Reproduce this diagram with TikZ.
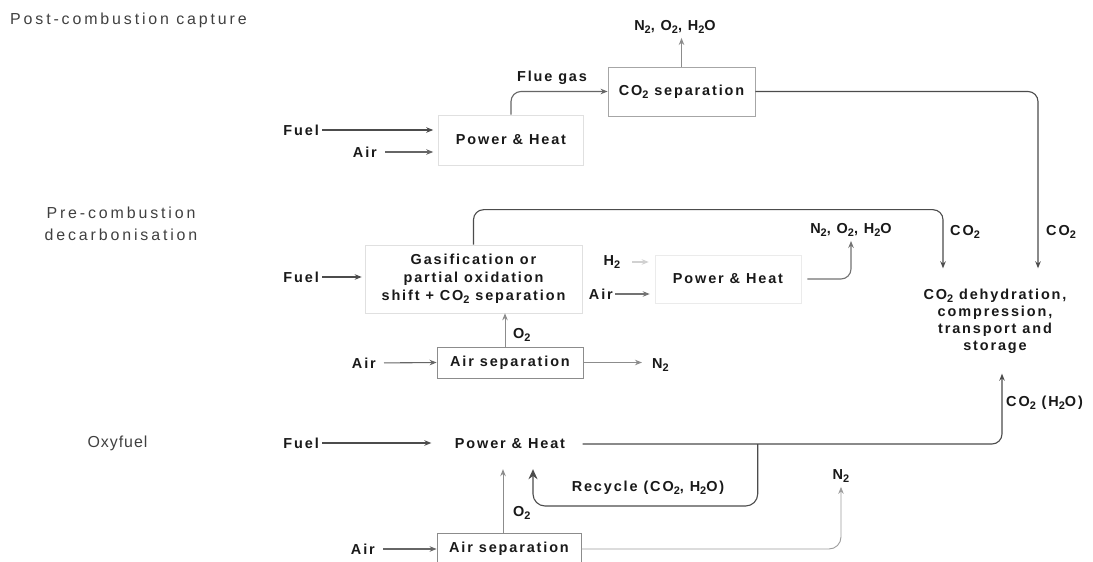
\documentclass[tikz,border=0pt]{standalone}
\usepackage{fontspec}
\setmainfont{Liberation Sans}[LetterSpace=13]
\newfontfamily\lblfont{Liberation Sans}[LetterSpace=18]
\newfontfamily\oxyfont{Liberation Sans}[LetterSpace=6]
\usetikzlibrary{arrows.meta,calc}
\newcommand\mysub[1]{\raisebox{-0.45ex}{\fontsize{11}{11}\selectfont #1}}
\tikzset{
  txt/.style={font=\fontsize{14.5}{17}\selectfont\bfseries, inner sep=0pt, text=black!90},
  lbl/.style={font=\lblfont\fontsize{16}{22}\selectfont, inner sep=0pt, text=black!75},
  fbox/.style={txt, draw=black!12, line width=0.6bp},
  gbox/.style={txt, draw=black!45, line width=0.8bp},
  flow/.style={draw=black!70, line width=1.1bp, -{Stealth[length=7bp,width=5.5bp]}},
  lflow/.style={draw=black!45, line width=1bp, -{Stealth[length=7bp,width=5.5bp]}},
  rc/.style={rounded corners=10bp}
}
\begin{document}
\begin{tikzpicture}[x=1bp,y=-1bp]
\useasboundingbox[fill=white] (0,0) rectangle (1093,562);

% left labels
\node[lbl, anchor=west] (lpost) at (10,20) {Post-combustion capture};
\node[lbl, align=center] (lpre) at (121,224) {Pre-combustion\\decarbonisation};
\node[lbl, font=\oxyfont\fontsize{16}{22}\selectfont] (loxy) at (117.5,443) {Oxyfuel};

% ---------------- post-combustion
\node[fbox, minimum width=145bp, minimum height=50bp] (ph1) at (511,140) {Power \& Heat};
\node[txt, anchor=east] (fuel1) at (319,130) {Fuel};
\node[txt, anchor=east] (air1) at (377,152) {Air};
\draw[flow, shorten <=3bp, shorten >=5bp] (fuel1.east) -- (ph1.west |- fuel1.east);
\draw[flow, draw=black!60, shorten <=8bp, shorten >=5bp] (air1.east) -- (ph1.west |- air1.east);
\node[txt] (flue) at (552,78) {Flue gas};
\node[gbox, draw=black!35, minimum width=147bp, minimum height=49bp] (co2sep) at (681.5,91.5) {CO\mysub{2} separation};
\draw[flow, draw=black!60, rc] (ph1.north) |- (co2sep.west);
\node[txt] (ex1) at (675,27) {N\mysub{2}, O\mysub{2}, H\mysub{2}O};
\draw[lflow, shorten >=4bp] (co2sep.north) -- (co2sep.north |- ex1.south);

% CO2 treatment
\node[txt, align=center, minimum height=105bp, minimum width=150bp] (dehyd) at (995,321)
  {CO\mysub{2} dehydration,\\compression,\\transport and\\storage};
\draw[flow, rc] (co2sep.east) -| ($(dehyd.north)+(43,0)$);
\node[txt, anchor=west] (lco2a) at (1046,232) {CO\mysub{2}};

% ---------------- pre-combustion
\node[fbox, align=center, minimum width=217bp, minimum height=68bp,
      font=\fontsize{14.5}{18}\selectfont\bfseries] (gas) at (473.5,279)
  {Gasification or\\partial oxidation\\shift + CO\mysub{2} separation};
\node[txt, anchor=east] (fuel2) at (319,277) {Fuel};
\draw[flow, shorten <=3bp, shorten >=3bp] (fuel2.east) -- (gas.west |- fuel2.east);
\draw[flow, rc] (gas.north) -- ++(0,-35) -| ($(dehyd.north)+(-52,0)$);
\node[txt, anchor=west] (lco2b) at (950,232) {CO\mysub{2}};

\node[fbox, draw=black!8, minimum width=146bp, minimum height=48bp] (ph2) at (728,279) {Power \& Heat};
\node[txt] (h2) at (612,262) {H\mysub{2}};
\draw[flow, draw=black!18, shorten <=12bp, shorten >=6bp] (h2.east) -- (h2.east -| ph2.west);
\node[txt, anchor=east] (air3) at (613,294) {Air};
\draw[flow, draw=black!55, shorten <=2bp, shorten >=5bp] (air3.east) -- (air3.east -| ph2.west);
\node[txt] (ex2) at (851,230) {N\mysub{2}, O\mysub{2}, H\mysub{2}O};
\draw[flow, draw=black!55, rc, shorten <=6bp, shorten >=4bp] (ph2.east) -| (ex2.south);

\node[gbox, minimum width=146bp, minimum height=31bp] (asu1) at (510,362.5) {Air separation};
\node[txt, anchor=east] (air2) at (376,363) {Air};
\draw[flow, draw=black!60, shorten <=8bp] (air2.east) -- (asu1.west);
\draw[lflow] ($(asu1.north)+(-5,0)$) -- ($(asu1.north |- gas.south)+(-5,0)$);
\node[txt, anchor=west] (o2a) at (513,335) {O\mysub{2}};
\node[txt, anchor=west] (n2a) at (652,365) {N\mysub{2}};
\draw[lflow, shorten >=10bp] (asu1.east) -- (asu1.east -| n2a.west);

% ---------------- oxyfuel
\node[txt, minimum width=145bp, minimum height=50bp] (ph3) at (510,444) {Power \& Heat};
\node[txt, anchor=east] (fuel3) at (319,443) {Fuel};
\draw[flow, shorten <=3bp, shorten >=6bp] (fuel3.east) -- (ph3.west |- fuel3.east);
\draw[flow, rc] (ph3.east) -| ($(dehyd.south)+(7,0)$);
\node[txt, anchor=west] (lco2c) at (1006,403) {CO\mysub{2} (H\mysub{2}O)};
\coordinate (rb) at ($(ph3.east)+(175,0)$);
\draw[draw=black!70, line width=1.1bp, rounded corners=12bp, -{Stealth[length=10bp,width=9bp]}]
  (rb) -- ++(0,62) -| ($(ph3.south)+(23,0)$);
\node[txt] (recyc) at (648,488) {Recycle (CO\mysub{2}, H\mysub{2}O)};

\node[gbox, minimum width=144bp, minimum height=32bp] (asu2) at (509,549) {Air separation};
\node[txt, anchor=east] (air4) at (375,549) {Air};
\draw[flow, draw=black!60, shorten <=8bp] (air4.east) -- (asu2.west);
\draw[lflow] ($(asu2.north)+(-6,0)$) -- ($(asu2.north |- ph3.south)+(-6,0)$);
\node[txt, anchor=west] (o2b) at (513,513) {O\mysub{2}};
\node[txt] (n2c) at (841,476) {N\mysub{2}};
\draw[lflow, draw=black!38, line width=0.9bp, rounded corners=12bp, shorten >=4bp] (asu2.east) -| (n2c.south);
\end{tikzpicture}
\end{document}
